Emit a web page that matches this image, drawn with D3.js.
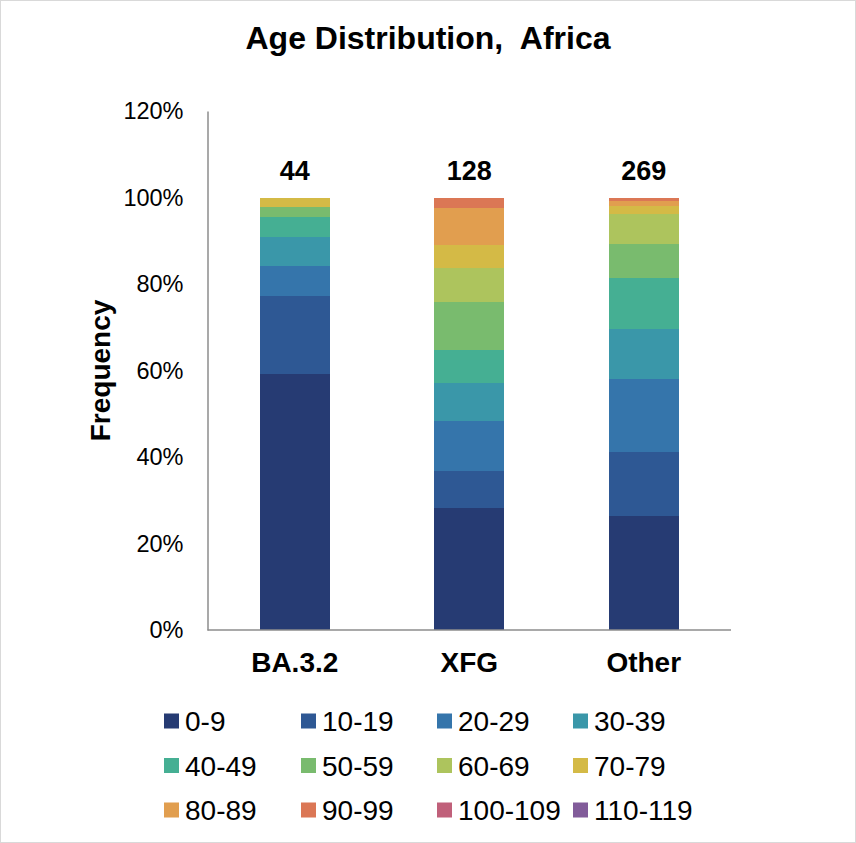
<!DOCTYPE html>
<html>
<head>
<meta charset="utf-8">
<script src="https://cdn.jsdelivr.net/npm/d3@7"></script>
<style>
  html, body { margin: 0; padding: 0; background: #fff; }
  svg { display: block; font-family: Arial, "Liberation Sans", sans-serif; }
</style>
</head>
<body>
<svg id="chart" width="856" height="843"></svg>
<script>
// ---- data ----
const categories = ["BA.3.2", "XFG", "Other"];
const ageGroups = ["0-9","10-19","20-29","30-39","40-49","50-59","60-69","70-79","80-89","90-99","100-109","110-119"];
const countsBA32  = [26, 8, 3, 3, 2, 1, 0, 1, 0, 0, 0, 0];
const countsXFG   = [36, 11, 15, 11, 10, 14, 10, 7, 11, 3, 0, 0];
const countsOther = [71, 40, 45, 31, 32, 21, 19, 5, 3, 2, 0, 0];
const totalLabels = ["44", "128", "269"];
const yTicks = [0, 0.2, 0.4, 0.6, 0.8, 1.0, 1.2];
const colors = ["#263b73","#2e5894","#3575ab","#3a97a9","#45af93","#79bb6e",
                "#adc45d","#d4ba46","#e19e4f","#db7755","#c0607a","#825c9a"];

// ---- build table ----
const countsByCat = [countsBA32, countsXFG, countsOther];
const table = categories.map((c, i) => {
  const row = { cat: c };
  const tot = d3.sum(countsByCat[i]);
  ageGroups.forEach((g, j) => { row[g] = countsByCat[i][j] / tot; });
  return row;
});
const stacked = d3.stack().keys(ageGroups)(table);

const svg = d3.select("#chart");
const W = 856, H = 843;

// border
svg.append("rect").attr("x", 0.5).attr("y", 0.5).attr("width", W - 1).attr("height", H - 1)
  .attr("fill", "#fff").attr("stroke", "#d9d9d9").attr("stroke-width", 1);

const x = d3.scaleBand().domain(categories).range([207.5, 731])
  .paddingInner(0.6).paddingOuter(0.3);
const y = d3.scaleLinear().domain([0, 1.2]).range([630, 111]);
const color = d3.scaleOrdinal().domain(ageGroups).range(colors);

// title
svg.append("text").attr("x", 428).attr("y", 49).attr("text-anchor", "middle")
  .attr("font-size", 32).attr("font-weight", "bold").attr("fill", "#000")
  .attr("xml:space", "preserve")
  .text("Age Distribution,  Africa");

// bars
svg.append("g").attr("shape-rendering", "crispEdges").selectAll("g").data(stacked).join("g")
  .attr("fill", d => color(d.key))
  .selectAll("rect").data(d => d).join("rect")
  .attr("x", d => x(d.data.cat))
  .attr("width", x.bandwidth())
  .attr("y", d => y(d[1]))
  .attr("height", d => Math.max(0, y(d[0]) - y(d[1])));

// y axis
const yAxis = d3.axisLeft(y).tickValues(yTicks).tickFormat(d3.format(".0%")).tickSize(0).tickPadding(24);
const gy = svg.append("g").attr("transform", "translate(207.5,0)").call(yAxis);
gy.select(".domain").attr("stroke", "#8c8c8c").attr("stroke-width", 1.5);
gy.selectAll("text").attr("font-size", 23.5).attr("fill", "#000").attr("font-family", "Arial, 'Liberation Sans', sans-serif");

// x axis
const xAxis = d3.axisBottom(x).tickSize(0).tickPadding(22);
const gx = svg.append("g").attr("transform", "translate(0,630)").call(xAxis);
gx.select(".domain").attr("stroke", "#8c8c8c").attr("stroke-width", 1.5).attr("d", "M207.5,0H731");
gx.selectAll("text").attr("font-size", 28).attr("font-weight", "bold").attr("fill", "#000")
  .attr("font-family", "Arial, 'Liberation Sans', sans-serif");

// totals
svg.append("g").selectAll("text").data(categories).join("text")
  .attr("x", d => x(d) + x.bandwidth() / 2)
  .attr("y", y(1) - 18)
  .attr("text-anchor", "middle")
  .attr("font-size", 27).attr("font-weight", "bold").attr("fill", "#000")
  .text((d, i) => totalLabels[i]);

// y label
svg.append("text").attr("transform", `translate(110,${(y(0) + y(1.2)) / 2}) rotate(-90)`)
  .attr("text-anchor", "middle").attr("font-size", 28).attr("font-weight", "bold").attr("fill", "#000")
  .text("Frequency");

// legend
const legCols = [164, 301, 437, 573];
const legRows = [721, 765.5, 810];
const leg = svg.append("g").selectAll("g").data(ageGroups).join("g")
  .attr("transform", (d, i) => `translate(${legCols[i % 4]},${legRows[Math.floor(i / 4)]})`);
leg.append("rect").attr("x", 0).attr("y", -7.5).attr("width", 15).attr("height", 15)
  .attr("fill", d => color(d));
leg.append("text").attr("x", 21).attr("y", 0).attr("dy", "0.36em")
  .attr("font-size", 28).attr("fill", "#000").text(d => d);
</script>
</body>
</html>
